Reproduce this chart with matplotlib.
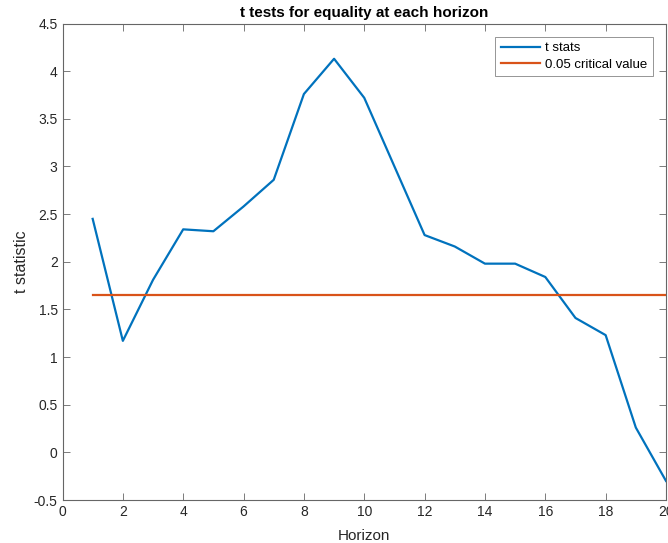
import matplotlib
matplotlib.use("Agg")
import matplotlib.pyplot as plt
import numpy as np

horizon = [1, 2, 3, 4, 5, 6, 7, 8, 9, 10, 11, 12, 13, 14, 15, 16, 17, 18, 19, 20]
t_stats = [2.45, 1.17, 1.81, 2.34, 2.32, 2.58, 2.86, 3.76, 4.13, 3.72, 3.00, 2.28, 2.16, 1.98, 1.98, 1.84, 1.41, 1.23, 0.26, -0.30]
crit_value = 1.65

plt.rcParams['font.family'] = ['Liberation Sans', 'DejaVu Sans']

fig = plt.figure(figsize=(6.68, 5.43), dpi=100)
ax = fig.add_axes([62.5/668, 43/543, (666-62.5)/668, (500-23.5)/543])

ax.plot(horizon, t_stats, color='#0072BD', lw=1.6, label='t stats')
ax.plot(horizon, [crit_value]*len(horizon), color='#D95319', lw=1.6, label='0.05 critical value')

ax.set_xlim(0, 20)
ax.set_ylim(-0.5, 4.5)
ax.set_xticks(np.arange(0, 21, 2))
ax.set_yticks(np.arange(-0.5, 4.51, 0.5))
ax.set_yticklabels(['-0.5', '0', '0.5', '1', '1.5', '2', '2.5', '3', '3.5', '4', '4.5'])
ax.tick_params(direction='in', top=True, right=True, length=5, width=0.6, colors='0.4', labelcolor='0.15', labelsize=10)
for s in ax.spines.values():
    s.set_color('0.4')
    s.set_linewidth(0.8)

ax.set_xlabel('Horizon', fontsize=11, color='0.15', labelpad=7)
ax.set_ylabel('t statistic', fontsize=11.5, color='0.15', labelpad=3.5)
ax.set_title('t tests for equality at each horizon', fontsize=11, fontweight='bold', pad=5)

leg = ax.legend(loc='upper right', fontsize=9.5, frameon=True, fancybox=False, handlelength=3.0,
                borderpad=0.4, labelspacing=0.3, handletextpad=0.4, borderaxespad=0,
                bbox_to_anchor=(0.9785, 0.9717))
leg.get_frame().set_edgecolor('0.4')
leg.get_frame().set_linewidth(0.6)

fig.savefig('out.png', dpi=100)
